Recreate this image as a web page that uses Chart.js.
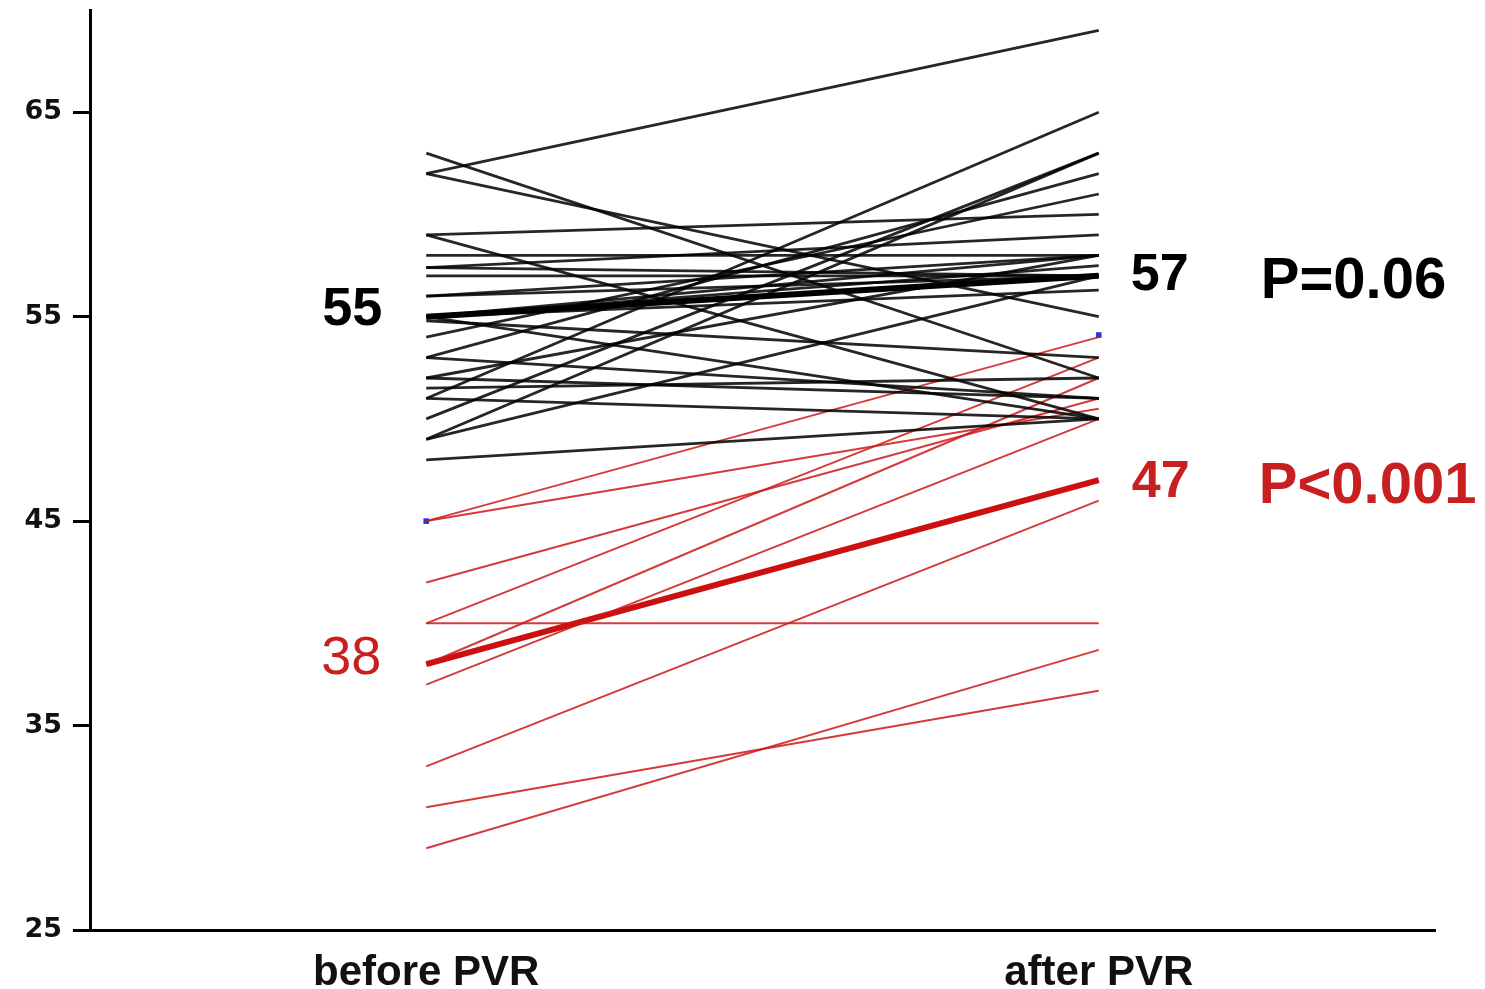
<!DOCTYPE html>
<html>
<head>
<meta charset="utf-8">
<script src="https://cdn.jsdelivr.net/npm/chart.js@4"></script>
<style>
  html, body { margin: 0; padding: 0; background: #fff; }
  #wrap { width: 1485px; height: 989px; }
</style>
</head>
<body>
<div id="wrap"><canvas id="graph"></canvas></div>
<script>
// categories and ticks
const categories = ['before PVR', 'after PVR'];
const yTicks = [25, 35, 45, 55, 65];

// individual patients, before -> after (black group)
const blackBefore = [62, 63, 62, 59, 59, 58, 57.4, 57, 56, 55, 55, 55, 54.8, 54, 53, 52, 52, 51, 51, 50, 49, 49, 48, 53, 56, 57.4, 55, 51.5];
const blackAfter  = [69, 52, 55, 50, 60, 58, 59, 57, 57, 56.3, 58, 50, 53, 61, 62, 51, 58, 65, 50, 63, 63, 57, 50, 51, 58, 57, 57.5, 52];

// red group
const redBefore = [45, 45, 40, 38, 42, 37, 33, 40, 31, 29];
const redAfter  = [54, 50.5, 53, 52, 51, 50, 46, 40, 36.7, 38.7];

// group means
const blackMean = [55, 57];
const redMean = [38, 47];

// highlighted points (blue)
const bluePoints = [[1, 45], [3, 54.1]];

const xPos = [1, 3];

function pair(b, a) {
    return [{x: xPos[0], y: b}, {x: xPos[1], y: a}];
}

let datasets = [];
blackBefore.forEach((b, i) => {
    datasets.push({
        data: pair(b, blackAfter[i]),
        borderColor: 'rgba(0,0,0,0.85)',
        borderWidth: 2.8
    });
});
datasets.push({
    data: pair(blackMean[0], blackMean[1]),
    borderColor: '#000',
    borderWidth: 6
});
redBefore.forEach((b, i) => {
    datasets.push({
        data: pair(b, redAfter[i]),
        borderColor: 'rgba(205,25,25,0.85)',
        borderWidth: 2
    });
});
datasets.push({
    data: pair(redMean[0], redMean[1]),
    borderColor: '#cc1010',
    borderWidth: 6
});
datasets.push({
    type: 'scatter',
    data: bluePoints.map(p => ({x: p[0], y: p[1]})),
    pointStyle: 'rect',
    pointRadius: 4,
    backgroundColor: '#2a36d8',
    borderWidth: 0
});

// text annotations next to the columns
const notes = [
    {text: '55', col: 0, y: 54.6, dx: -44, align: 'right', color: '#000', font: 'bold 54px "Liberation Sans", Arial'},
    {text: '38', col: 0, y: 37.5, dx: -45, align: 'right', color: '#c82020', font: '54px "Liberation Sans", Arial'},
    {text: '57', col: 1, y: 56.3, dx: 32, align: 'left', color: '#000', font: 'bold 52px "Liberation Sans", Arial'},
    {text: '47', col: 1, y: 46.2, dx: 33, align: 'left', color: '#c82020', font: 'bold 52px "Liberation Sans", Arial'},
    {text: 'P=0.06', col: 1, y: 55.9, dx: 162, align: 'left', color: '#000', font: 'bold 58px "Liberation Sans", Arial'},
    {text: 'P<0.001', col: 1, y: 45.9, dx: 160, align: 'left', color: '#c82020', font: 'bold 58px "Liberation Sans", Arial'}
];

const notePlugin = {
    id: 'notes',
    afterDatasetsDraw(chart) {
        const ctx = chart.ctx;
        const xs = chart.scales.x, ys = chart.scales.y;
        ctx.save();
        notes.forEach(n => {
            ctx.font = n.font;
            ctx.fillStyle = n.color;
            ctx.textAlign = n.align;
            ctx.textBaseline = 'alphabetic';
            ctx.fillText(n.text, xs.getPixelForValue(xPos[n.col]) + n.dx, ys.getPixelForValue(n.y));
        });
        ctx.restore();
    }
};

new Chart(document.getElementById('graph').getContext('2d'), {
    type: 'line',
    data: {datasets: datasets},
    options: {
        responsive: true,
        maintainAspectRatio: false,
        animation: false,
        layout: {padding: {left: 0, top: 10, right: 50, bottom: 0}},
        elements: {point: {radius: 0}, line: {tension: 0}},
        plugins: {legend: {display: false}, tooltip: {enabled: false}},
        scales: {
            x: {
                type: 'linear',
                min: 0,
                max: 4,
                afterBuildTicks: s => { s.ticks = xPos.map(v => ({value: v})); },
                afterFit: s => { s.height = 59; s.paddingLeft = 0; s.paddingRight = 0; },
                ticks: {
                    callback: (v) => categories[xPos.indexOf(v)],
                    color: '#111',
                    font: {family: '"Liberation Sans", Arial', size: 42, weight: 'bold'},
                    padding: 18,
                    maxRotation: 0,
                    autoSkip: false
                },
                grid: {display: true, drawOnChartArea: false, drawTicks: false},
                border: {display: true, color: '#000', width: 3}
            },
            y: {
                min: 25,
                max: 70,
                afterBuildTicks: s => { s.ticks = yTicks.map(v => ({value: v})); },
                afterFit: s => { s.width = 90; s.paddingTop = 0; s.paddingBottom = 0; },
                ticks: {
                    color: '#111',
                    font: {family: '"DejaVu Sans", Arial', size: 27, weight: 'bold'},
                    padding: 11
                },
                grid: {display: true, drawOnChartArea: false, drawTicks: true, tickLength: 17, tickWidth: 3, color: '#000'},
                border: {display: true, color: '#000', width: 3}
            }
        }
    },
    plugins: [notePlugin]
});
</script>
</body>
</html>
